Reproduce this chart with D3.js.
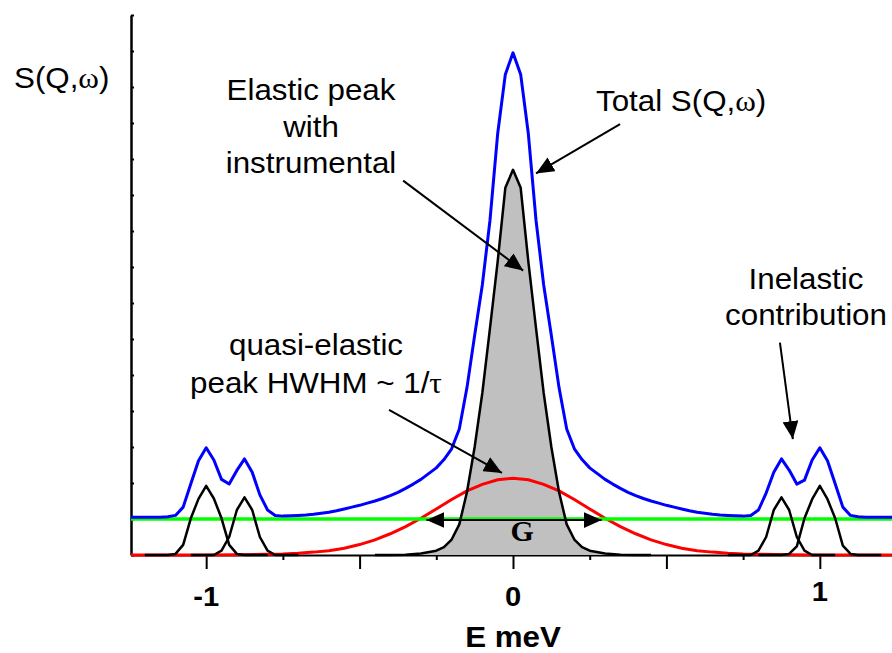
<!DOCTYPE html>
<html>
<head>
<meta charset="utf-8">
<script src="https://cdn.jsdelivr.net/npm/d3@7"></script>
<style>
  body { margin: 0; background: #fff; }
  text { font-family: "Liberation Sans", Arial, sans-serif; fill: #000; }
</style>
</head>
<body>
<div id="chart"></div>
<script>
// energy axis ticks (meV)
var majorTicks = [-1, -0.5, 0, 0.5, 1];
var minorTicks = [-0.75, -0.25, 0.25, 0.75];
var tickLabels = ["-1", "0", "1"];
var tickLabelValues = [-1, 0, 1];
var yTicks = d3.range(0, 16);

// flat background (green)
var backgroundE = [-1.245, 1.245];
var backgroundV = [1, 1];

// total S(Q,w) (blue)
var totalE = [-1.245, -1.15, -1.125, -1.1, -1.075, -1.05, -1.025, -1.0, -0.975, -0.95, -0.925, -0.9, -0.875, -0.85, -0.825, -0.8, -0.775,
  -0.75, -0.725, -0.7, -0.675, -0.65, -0.625, -0.6, -0.575, -0.55, -0.525, -0.5, -0.475, -0.45, -0.425, -0.4, -0.375, -0.35, -0.325,
  -0.3, -0.275, -0.25, -0.225, -0.2, -0.175, -0.15, -0.125, -0.1, -0.075, -0.05, -0.025, 0,
  0.025, 0.05, 0.075, 0.1, 0.125, 0.15, 0.175, 0.2, 0.225, 0.25, 0.275, 0.3, 0.325, 0.35, 0.375, 0.4, 0.425, 0.45, 0.475, 0.5,
  0.525, 0.55, 0.575, 0.6, 0.625, 0.65, 0.675, 0.7, 0.725, 0.75,
  0.775, 0.8, 0.825, 0.85, 0.875, 0.9, 0.925, 0.95, 0.975, 1.0, 1.025, 1.05, 1.075, 1.1, 1.125, 1.15, 1.245];
var totalV = [1.05, 1.05, 1.06, 1.1, 1.33, 1.98, 2.62, 2.98, 2.64, 2.1, 1.97, 2.35, 2.67, 2.3, 1.67, 1.25, 1.1,
  1.08, 1.09, 1.1, 1.11, 1.13, 1.16, 1.19, 1.23, 1.28, 1.33, 1.38, 1.44, 1.5, 1.57, 1.65, 1.74, 1.85, 1.97,
  2.1, 2.26, 2.42, 2.65, 2.95, 3.5, 4.65, 6.1, 7.5, 9.3, 11.7, 13.35, 13.95,
  13.35, 11.7, 9.3, 7.5, 6.1, 4.65, 3.5, 2.95, 2.65, 2.42, 2.26, 2.1, 1.97, 1.85, 1.74, 1.65, 1.57, 1.5, 1.44, 1.38,
  1.33, 1.28, 1.23, 1.19, 1.16, 1.13, 1.11, 1.1, 1.09, 1.08,
  1.1, 1.25, 1.72, 2.3, 2.67, 2.36, 1.97, 2.08, 2.64, 2.98, 2.62, 1.98, 1.33, 1.1, 1.06, 1.05, 1.05];

// quasi-elastic peak (red)
var quasiE = [-1.245, -1.0, -0.9, -0.8, -0.75, -0.7, -0.65, -0.6, -0.55, -0.5, -0.45, -0.4, -0.35, -0.3, -0.25, -0.2, -0.15, -0.1, -0.05, 0,
  0.05, 0.1, 0.15, 0.2, 0.25, 0.3, 0.35, 0.4, 0.45, 0.5, 0.55, 0.6, 0.65, 0.7, 0.75, 0.8, 0.9, 1.0, 1.245];
var quasiV = [0, 0, 0.01, 0.02, 0.03, 0.05, 0.08, 0.12, 0.19, 0.29, 0.42, 0.59, 0.79, 1.02, 1.28, 1.54, 1.78, 1.96, 2.09, 2.13,
  2.09, 1.96, 1.78, 1.54, 1.28, 1.02, 0.79, 0.59, 0.42, 0.29, 0.19, 0.12, 0.08, 0.05, 0.03, 0.02, 0.01, 0, 0];

// elastic peak with instrumental resolution (black, grey fill)
var elasticE = [-0.45, -0.4, -0.35, -0.3, -0.25, -0.225, -0.2, -0.175, -0.15, -0.125, -0.1, -0.075, -0.05, -0.025, 0,
  0.025, 0.05, 0.075, 0.1, 0.125, 0.15, 0.175, 0.2, 0.225, 0.25, 0.3, 0.35, 0.4, 0.45];
var elasticV = [0, 0, 0.01, 0.04, 0.12, 0.22, 0.43, 0.85, 1.75, 3.0, 4.5, 6.3, 8.15, 10.2, 10.7,
  10.2, 8.15, 6.3, 4.5, 3.0, 1.75, 0.85, 0.43, 0.22, 0.12, 0.04, 0.01, 0, 0];

// inelastic peaks (black)
var inelE1 = [-1.2, -1.125, -1.1, -1.075, -1.05, -1.025, -1.0, -0.975, -0.95, -0.925, -0.9, -0.875, -0.8];
var inelV1 = [0, 0, 0.03, 0.28, 1.02, 1.56, 1.92, 1.57, 1.02, 0.28, 0.03, 0, 0];
var inelE2 = [-1.05, -0.975, -0.95, -0.925, -0.9, -0.875, -0.85, -0.825, -0.8, -0.775, -0.7];
var inelV2 = [0, 0, 0.12, 0.5, 1.25, 1.6, 1.25, 0.5, 0.12, 0, 0];
var inelE3 = [0.7, 0.775, 0.8, 0.825, 0.85, 0.875, 0.9, 0.925, 0.95, 0.975, 1.05];
var inelV3 = [0, 0, 0.12, 0.5, 1.25, 1.6, 1.25, 0.5, 0.12, 0, 0];
var inelE4 = [0.8, 0.875, 0.9, 0.925, 0.95, 0.975, 1.0, 1.025, 1.05, 1.075, 1.1, 1.125, 1.2];
var inelV4 = [0, 0, 0.03, 0.24, 1.02, 1.55, 1.92, 1.55, 1.02, 0.26, 0.03, 0, 0];

// annotation arrows [E1, v1, E2, v2]
var elasticArrow = [-0.358, 10.4, 0.033, 7.9];
var totalArrow = [0.349, 11.97, 0.075, 10.6];
var inelasticArrow = [0.87, 5.9, 0.912, 3.22];
var quasiArrow = [-0.404, 4.03, -0.036, 2.28];
var widthArrow = [-0.282, 0.97, 0.289, 0.97];

var W = 892, H = 653;
var x = d3.scaleLinear().domain([-1.245, 1.245]).range([131, 895]);
var y = d3.scaleLinear().domain([0, 15]).range([555, 15]);

var svg = d3.select("#chart").append("svg")
  .attr("width", W)
  .attr("height", H);

svg.append("defs").append("marker")
    .attr("id", "head")
    .attr("viewBox", "0 0 18 16")
    .attr("refX", 18)
    .attr("refY", 8)
    .attr("markerWidth", 18)
    .attr("markerHeight", 16)
    .attr("markerUnits", "userSpaceOnUse")
    .attr("orient", "auto-start-reverse")
  .append("path")
    .attr("d", "M0,0L18,8L0,16Z")
    .attr("fill", "#000");

// axes
svg.append("g")
    .attr("transform", "translate(0,555)")
    .call(d3.axisBottom(x).tickValues(majorTicks).tickSize(14).tickSizeOuter(0).tickFormat(""))
    .call(g => g.select(".domain").attr("stroke-width", 2.2))
    .call(g => g.selectAll(".tick line").attr("stroke-width", 2));
svg.append("g")
    .attr("transform", "translate(0,555)")
    .call(d3.axisBottom(x).tickValues(minorTicks).tickSize(5).tickSizeOuter(0).tickFormat(""))
    .call(g => g.select(".domain").remove())
    .call(g => g.selectAll(".tick line").attr("stroke-width", 2));
svg.append("g")
    .attr("transform", "translate(131,0)")
    .call(d3.axisRight(y).tickValues(yTicks).tickSize(3).tickSizeOuter(0).tickFormat(""))
    .call(g => g.select(".domain").attr("stroke-width", 2.5))
    .call(g => g.selectAll(".tick line").attr("stroke-width", 2));

svg.selectAll(".xlab")
  .data(tickLabelValues)
  .enter().append("text")
    .attr("transform", d => "translate(" + x(d) + "," + (d === 1 ? 601 : 606) + ") scale(1.08,1)")
    .attr("text-anchor", "middle")
    .style("font-size", "27px")
    .style("font-weight", "bold")
    .text((d, i) => tickLabels[i]);

svg.append("text")
    .attr("transform", "translate(" + x(0) + ",647) scale(1.08,1)")
    .attr("text-anchor", "middle")
    .style("font-size", "29px")
    .style("font-weight", "bold")
    .text("E meV");

function pts(es, vs) { return es.map((e, i) => [e, vs[i]]); }
var line = d3.line().x(d => x(d[0])).y(d => y(d[1]));
var area = d3.area().x(d => x(d[0])).y0(y(0)).y1(d => y(d[1]));

svg.append("path")
    .datum(pts(elasticE, elasticV))
    .attr("d", area)
    .attr("fill", "#c0c0c0");

svg.append("path")
    .datum(pts(quasiE, quasiV))
    .attr("d", line)
    .attr("fill", "none")
    .attr("stroke", "#ff0000")
    .attr("stroke-width", 3);

svg.append("path")
    .datum(pts(backgroundE, backgroundV))
    .attr("d", line)
    .attr("fill", "none")
    .attr("stroke", "#00ff00")
    .attr("stroke-width", 3.5);

svg.append("path")
    .datum(pts(totalE, totalV))
    .attr("d", line)
    .attr("fill", "none")
    .attr("stroke", "#0000ff")
    .attr("stroke-width", 3)
    .attr("stroke-linejoin", "round");

[[elasticE, elasticV], [inelE1, inelV1], [inelE2, inelV2], [inelE3, inelV3], [inelE4, inelV4]].forEach(function(s) {
  svg.append("path")
      .datum(pts(s[0], s[1]))
      .attr("d", line)
      .attr("fill", "none")
      .attr("stroke", "#000")
      .attr("stroke-width", 2.5)
      .attr("stroke-linejoin", "round");
});

// arrows
function arrow(a, both) {
  svg.append("line")
      .attr("x1", x(a[0])).attr("y1", y(a[1]))
      .attr("x2", x(a[2])).attr("y2", y(a[3]))
      .attr("stroke", "#000")
      .attr("stroke-width", 2)
      .attr("marker-end", "url(#head)")
      .attr("marker-start", both ? "url(#head)" : null);
}
arrow(elasticArrow);
arrow(totalArrow);
arrow(inelasticArrow);
arrow(quasiArrow);
arrow(widthArrow, true);

svg.append("text")
    .attr("x", x(0.03))
    .attr("y", 541)
    .attr("text-anchor", "middle")
    .style("font-family", "'Liberation Serif', 'Times New Roman', serif")
    .style("font-size", "30px")
    .style("font-weight", "bold")
    .text("G");

// labels
function label(lines, cx, baselines, anchor) {
  lines.forEach(function(t, i) {
    var txt = svg.append("text")
        .attr("transform", "translate(" + cx + "," + baselines[i] + ") scale(1.08,1)")
        .attr("text-anchor", anchor || "middle")
        .style("font-size", "29px");
    t.forEach(function(part) {
      txt.append("tspan")
          .style("font-family", part.serif ? "'Liberation Serif', serif" : null)
          .text(part.s);
    });
  });
}
label([[{s: "S(Q,"}, {s: "ω", serif: true}, {s: ")"}]], 14, [88], "start");
label([[{s: "Elastic peak"}], [{s: "with"}], [{s: "instrumental"}]], 311, [100, 137, 173]);
label([[{s: "Total S(Q,"}, {s: "ω", serif: true}, {s: ")"}]], 596, [111], "start");
label([[{s: "Inelastic"}], [{s: "contribution"}]], 806, [289, 325]);
label([[{s: "quasi-elastic"}], [{s: "peak HWHM ~ 1/"}, {s: "τ", serif: true}]], 316, [355, 393]);
</script>
</body>
</html>
